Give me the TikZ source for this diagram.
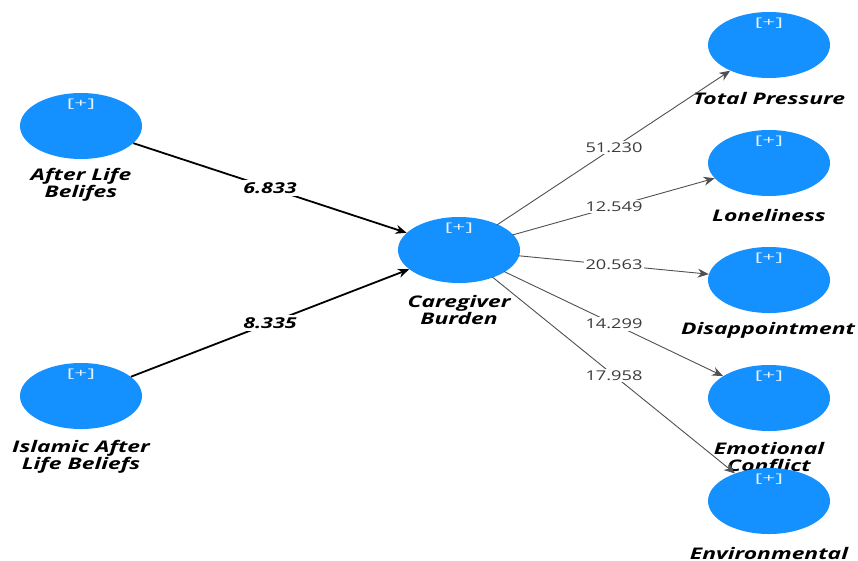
\documentclass[tikz,border=0pt]{standalone}
\usepackage{fontspec}
\setmainfont{Open Sans}
\newfontfamily\wideA[FakeStretch=1.43]{Open Sans}
\newfontfamily\wideB[FakeStretch=1.35]{Open Sans}
\newfontfamily\wideC[FakeStretch=1.9]{Open Sans}
\usetikzlibrary{shapes.geometric,arrows.meta}
\definecolor{lvblue}{RGB}{20,144,255}
\definecolor{numgray}{RGB}{60,60,60}
\tikzset{
  lv/.style={ellipse, fill=lvblue, minimum width=122pt, minimum height=66pt, inner sep=0pt,
    label={[anchor=north, yshift=-3pt, text=white!88!lvblue, font=\wideC\fontsize{12}{13}\selectfont]north:{[+]}}},
  lvname/.style={font=\wideA\fontsize{16}{17}\selectfont\bfseries\itshape, align=center, text=black},
  inner/.style={draw=black, line width=1.8pt, -{Stealth[length=11pt,width=9pt]}},
  outer/.style={draw=numgray!90, line width=0.9pt, -{Stealth[length=11pt,width=9pt]}, shorten <=-1pt},
  bignum/.style={fill=white, inner sep=2pt, font=\wideA\fontsize{15}{16}\selectfont\bfseries\itshape},
  smallnum/.style={fill=white, inner sep=2pt, text=numgray, font=\wideB\fontsize{13.5}{15}\selectfont},
}
\begin{document}
\begin{tikzpicture}[x=1pt,y=-1pt]
\useasboundingbox (0,0) rectangle (858,560);
% latent variables
\node[lv] (alb) at (81,126) {};
\node[lv] (ialb) at (81,396) {};
\node[lv] (cb) at (459,250) {};
\node[lv] (tp) at (769,45) {};
\node[lv] (lon) at (769,163) {};
\node[lv] (dis) at (769,280) {};
\node[lv] (emo) at (769,398) {};
% names
\node[lvname] (albt) at (81,185) {After Life\\Belifes};
\node[lvname] (ialbt) at (81,457) {Islamic After\\Life Beliefs};
\node[lvname] (cbt) at (459,310) {Caregiver\\Burden};
\node[lvname] (tpt) at (769,98) {Total Pressure};
\node[lvname] (lont) at (769,215) {Loneliness};
\node[lvname] (dist) at (768,330) {Disappointment};
\node[lvname] (emot) at (769,459) {Emotional\\Conflict};
% environmental drawn over the label above
\node[lv] (env) at (769,501) {};
\node[lvname] (envt) at (769,553) {Environmental};
% paths
\draw[inner] (alb) -- node[bignum] (n1) {6.833} (cb);
\draw[inner] (ialb) -- node[bignum] (n2) {8.335} (cb);
\draw[outer] (cb) -- node[smallnum] (n3) {51.230} (tp);
\draw[outer] (cb) -- node[smallnum] (n4) {12.549} (lon);
\draw[outer] (cb) -- node[smallnum] (n5) {20.563} (dis);
\draw[outer] (cb) -- node[smallnum] (n6) {14.299} (emo);
\draw[outer] (cb) -- node[smallnum] (n7) {17.958} (env);
\end{tikzpicture}
\end{document}
